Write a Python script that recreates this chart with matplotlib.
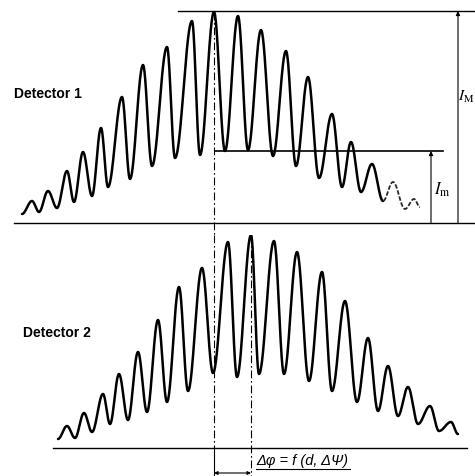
import numpy as np
import matplotlib
matplotlib.use("Agg")
import matplotlib.pyplot as plt

plt.rcParams["mathtext.fontset"] = "stix"

# Detector 1: fringe extrema (scan position, intensity in a.u.)
det1_peak_x = [32, 48, 67, 83, 101, 122, 143, 167, 192, 214, 238, 261, 286, 308, 332, 351, 372, 393, 414]
det1_peak_i = [22, 32, 52, 71, 95, 126, 158, 176, 202, 211, 207, 193, 172, 146, 109, 81, 59, 41, 24]
det1_trough_x = [22, 39, 57, 74, 92, 108, 130, 152, 175, 200, 225, 248, 273, 296, 319, 342, 361, 383, 405, 420]
det1_trough_i = [9, 11, 15, 21, 27, 36, 44, 57, 65, 68, 72, 73, 67, 57, 45, 36, 31, 22, 14, 16]

# Detector 2: fringe extrema
det2_peak_x = [67, 84, 103, 119, 138, 158, 179, 202, 228, 251, 274, 297, 322, 345, 368, 388, 408, 430, 451]
det2_peak_i = [22, 35, 54, 74, 96, 128, 161, 180, 206, 213, 207, 196, 176, 147, 110, 82, 61, 42, 26]
det2_trough_x = [58, 75, 92, 110, 128, 147, 167, 188, 213, 237, 259, 284, 309, 332, 357, 378, 398, 418, 439, 458]
det2_trough_i = [9, 10, 16, 24, 28, 36, 46, 57, 75, 71, 74, 74, 67, 57, 46, 37, 32, 24, 17, 14]

LW = 1.8


def fringe_curve(px, pi, tx, ti, n=30):
    # join alternating troughs and peaks with half-cosine swings
    ex = np.empty(len(px) + len(tx))
    ey = np.empty_like(ex)
    ex[0::2], ey[0::2] = tx, ti
    ex[1::2], ey[1::2] = px, pi
    xs, ys = [], []
    for k in range(len(ex) - 1):
        t = np.linspace(0, 1, n, endpoint=False)
        xs.append(ex[k] + (ex[k + 1] - ex[k]) * t)
        ys.append(ey[k] + (ey[k + 1] - ey[k]) * (1 - np.cos(np.pi * t)) / 2)
    xs.append([ex[-1]])
    ys.append([ey[-1]])
    return np.concatenate(xs), np.concatenate(ys)


fig = plt.figure(figsize=(4.75, 4.77), dpi=100)
ax1 = fig.add_axes([0, 241 / 477, 1, 236 / 477])
ax2 = fig.add_axes([0, 0, 1, 241 / 477])
ax1.set_xlim(0, 475)
ax1.set_ylim(-12, 224)
ax2.set_xlim(0, 475)
ax2.set_ylim(-28, 213)
for ax in (ax1, ax2):
    ax.axis("off")

dashdot = (0, (7, 2.5, 1.5, 2.5))

# --- Detector 1 ---
x1, y1 = fringe_curve(det1_peak_x, det1_peak_i, det1_trough_x, det1_trough_i)
solid = x1 <= 383
ax1.plot(x1[solid], y1[solid], color="black", lw=LW, solid_capstyle="round")
ax1.plot(x1[~solid], y1[~solid], color="#2a2a2a", lw=1.3, ls=(0, (2.5, 1.0)))

i_max = max(det1_peak_i)
k_max = det1_peak_i.index(i_max)
x_max1 = det1_peak_x[k_max]
i_min = det1_trough_i[k_max + 1]

ax1.plot([14, 475], [0, 0], color="black", lw=1.0)
ax1.plot([178, 475], [i_max + 1, i_max + 1], color="black", lw=1.0)
ax1.plot([x_max1 + 1, 443], [i_min, i_min], color="black", lw=1.2)
ax1.plot([x_max1, x_max1], [i_max, -12], color="black", lw=0.8, ls=dashdot)

ax1.annotate("", xy=(458, i_max + 1), xytext=(458, 0),
             arrowprops=dict(arrowstyle="-|>", lw=0.8, color="black",
                             mutation_scale=6, shrinkA=0, shrinkB=0))
ax1.annotate("", xy=(431, i_min), xytext=(431, 0),
             arrowprops=dict(arrowstyle="-|>", lw=0.8, color="black",
                             mutation_scale=6, shrinkA=0, shrinkB=0))
ax1.text(474, 127, r"$I_{\mathrm{M}}$", fontsize=11, ha="right", va="center")
ax1.text(434, 34, r"$I_{\mathrm{m}}$", fontsize=12, ha="left", va="center")
ax1.text(14, 130, "Detector 1", fontsize=10, fontweight="bold",
         family="Liberation Sans", ha="left", va="center")

# --- Detector 2 ---
x2, y2 = fringe_curve(det2_peak_x, det2_peak_i, det2_trough_x, det2_trough_i)
ax2.plot(x2, y2, color="black", lw=LW, solid_capstyle="round")

i_max2 = max(det2_peak_i)
x_max2 = det2_peak_x[det2_peak_i.index(i_max2)]

ax2.plot([53, 467], [0, 0], color="black", lw=1.0)
ax2.plot([x_max2 - 11, x_max2 + 12], [i_max2 + 3, i_max2 + 3], color="black", lw=1.0)
ax2.plot([x_max1, x_max1], [213, 0], color="black", lw=0.8, ls=dashdot)
ax2.plot([x_max1, x_max1], [0, -28], color="black", lw=0.8)
ax2.plot([x_max2, x_max2], [i_max2, -28], color="black", lw=0.8, ls=dashdot)

ax2.annotate("", xy=(x_max1, -25), xytext=(x_max2, -25),
             arrowprops=dict(arrowstyle="<|-|>", lw=0.8, color="black",
                             mutation_scale=5, shrinkA=0, shrinkB=0))
ax2.text(x_max2 + 5, -12, "Δφ = f (d, ΔΨ)", fontsize=10.5, fontstyle="italic",
         family="Liberation Sans", ha="left", va="center")
ax2.plot([x_max2 + 5, 350], [-21, -21], color="black", lw=0.8)
ax2.text(23, 116, "Detector 2", fontsize=10, fontweight="bold",
         family="Liberation Sans", ha="left", va="center")

fig.savefig("out.png", dpi=100)
